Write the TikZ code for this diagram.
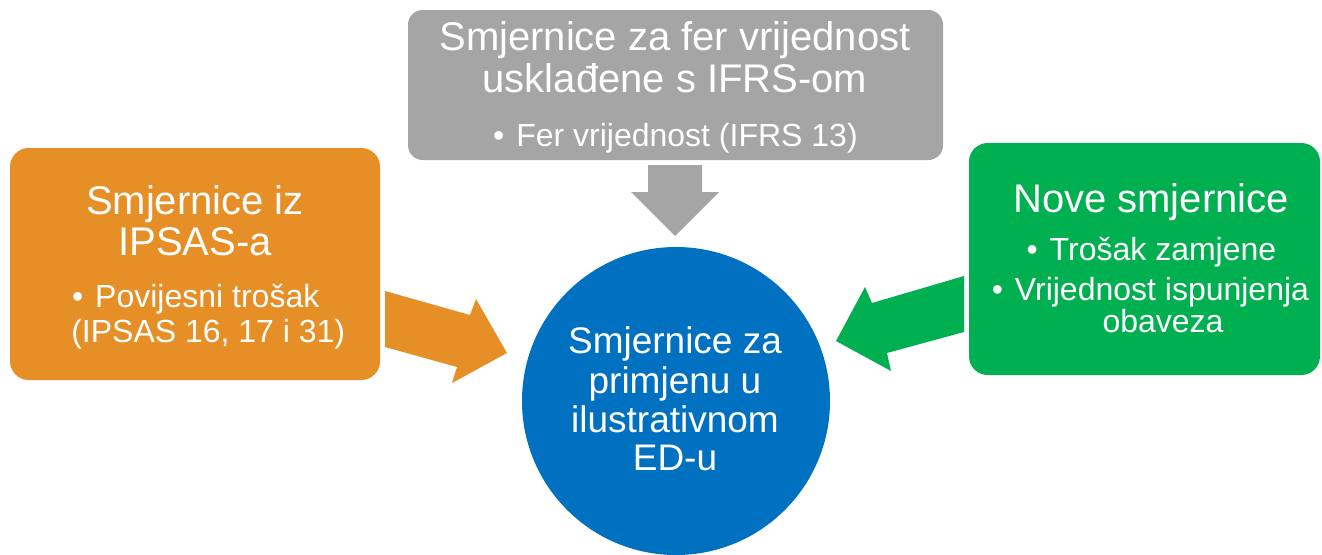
\documentclass[tikz,border=0pt]{standalone}
\usepackage{fontspec}
\setmainfont{Liberation Sans}
\definecolor{cgray}{HTML}{A5A5A5}
\definecolor{corange}{HTML}{E68F26}
\definecolor{cgreen}{HTML}{00B050}
\definecolor{cblue}{HTML}{0070C0}
\newcommand{\bul}{\llap{•\kern 9pt}}
\begin{document}
\begin{tikzpicture}[x=0.75pt,y=-0.75pt,
  box/.style={rounded corners=14pt, inner sep=0, draw=none},
  ttl/.style={font=\fontsize{30}{30}\selectfont, text=white, inner sep=0, anchor=base},
  btx/.style={font=\fontsize{24}{24}\selectfont, text=white, inner sep=0, anchor=base},
  ctx/.style={font=\fontsize{27.75}{28}\selectfont, text=white, inner sep=0, anchor=base}]
\useasboundingbox (0,0) rectangle (1322,554);
% boxes
\node[box, fill=cgray, rounded corners=11pt, minimum width=401.25pt, minimum height=112.5pt] (gbox) at (675.5,85) {};
\node[box, fill=corange, minimum width=277.5pt, minimum height=174pt] (obox) at (195,264) {};
\node[box, fill=cgreen, minimum width=263.25pt, minimum height=174pt] (grbox) at (1144.5,259) {};
\node[circle, fill=cblue, inner sep=0, minimum size=231pt] (circ) at (676,401) {};
% arrows
\fill[cgray] (648,165) -- (702,165) -- (702,192) -- (719,192) -- (675,236) -- (631,192) -- (648,192) -- cycle;
\fill[corange] (385,291) -- (470,315) -- (476,299) -- (507,353) -- (452,383) -- (457,367) -- (385,347) -- cycle;
\fill[cgreen] (964,276) -- (872,303) -- (865,287) -- (836,341) -- (891,371) -- (887,353) -- (964,332) -- cycle;
% gray text
\node[ttl] (g1) at (675,50) {Smjernice za fer vrijednost};
\node[ttl] (g2) at (675,92) {usklađene s IFRS-om};
\node[btx] (g3) at (687,146) {\bul Fer vrijednost (IFRS 13)};
% orange text
\node[ttl] (o1) at (195,214) {Smjernice iz};
\node[ttl] (o2) at (195,255) {IPSAS-a};
\node[btx, anchor=base west] (o3) at (95,307) {\bul Povijesni trošak};
\node[btx, anchor=base west] (o4) at (71,342) {(IPSAS 16, 17 i 31)};
% green text
\node[ttl] (n1) at (1151,212) {Nove smjernice};
\node[btx] (n2) at (1163,260) {\bul Trošak zamjene};
\node[btx] (n3) at (1162,300) {\bul Vrijednost ispunjenja};
\node[btx] (n4) at (1163,332) {obaveza};
% circle text
\node[ctx] (c1) at (675,353) {Smjernice za};
\node[ctx] (c2) at (675,393) {primjenu u};
\node[ctx] (c3) at (675,432) {ilustrativnom};
\node[ctx] (c4) at (675,470) {ED-u};
\end{tikzpicture}
\end{document}
